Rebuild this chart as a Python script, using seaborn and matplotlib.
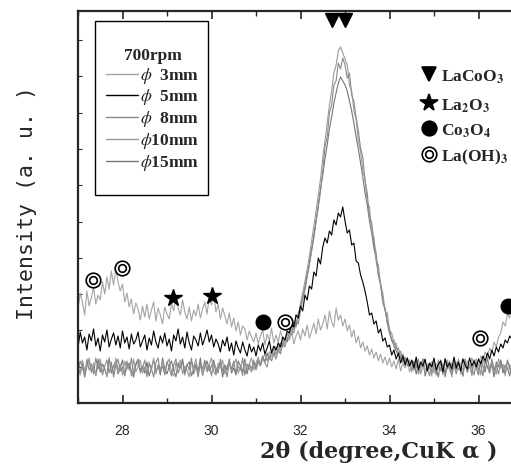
import numpy as np
import pandas as pd
import matplotlib
matplotlib.use("Agg")
import matplotlib.pyplot as plt
import seaborn as sns
from matplotlib.lines import Line2D
from matplotlib.patches import Rectangle
from matplotlib.ticker import MultipleLocator

# ---------------- data ----------------
# scan grid: 27.00 .. 36.80 deg, step 0.05 (197 points)
two_theta = np.round(np.linspace(27.0, 36.8, 197), 2)

i_3mm = [94, 110, 101, 88, 112, 97, 105, 116, 99, 108,
         103, 121, 109, 126, 114, 132, 118, 135, 121, 112,
         119, 101, 110, 96, 104, 89, 100, 94, 83, 97,
         86, 99, 84, 93, 101, 82, 95, 88, 79, 96,
         89, 84, 100, 92, 106, 95, 88, 103, 91, 84,
         96, 82, 93, 87, 99, 85, 94, 101, 89, 106,
         98, 107, 91, 99, 84, 95, 87, 79, 90, 76,
         85, 72, 81, 68, 77, 74, 63, 72, 66, 61,
         70, 59, 67, 73, 58, 69, 62, 75, 60, 68,
         61, 72, 64, 58, 70, 63, 74, 59, 67, 72,
         63, 74, 67, 78, 65, 72, 80, 69, 84, 73,
         79, 88, 74, 92, 81, 76, 95, 83, 88, 77,
         84, 72, 78, 66, 73, 60, 67, 55, 61, 52,
         57, 48, 54, 45, 51, 42, 49, 40, 46, 38,
         45, 36, 42, 34, 44, 32, 40, 35, 43, 31,
         40, 33, 43, 30, 38, 42, 31, 39, 34, 41,
         30, 39, 35, 42, 31, 38, 43, 32, 40, 34,
         41, 33, 39, 44, 35, 42, 36, 45, 38, 44,
         38, 47, 43, 51, 45, 55, 50, 61, 56, 66,
         70, 81, 77, 89, 85, 97, 92]

i_5mm = [55, 71, 60, 66, 53, 69, 62, 74, 57, 65,
         52, 68, 61, 73, 56, 64, 70, 58, 67, 55,
         72, 60, 66, 54, 69, 59, 63, 71, 56, 62,
         68, 53, 65, 58, 72, 61, 55, 67, 60, 70,
         57, 64, 52, 68, 62, 74, 59, 66, 55, 71,
         60, 53, 67, 63, 57, 70, 58, 65, 73, 61,
         68, 56, 64, 59, 51, 63, 57, 66, 52, 60,
         48, 62, 55, 50, 61, 53, 47, 59, 51, 56,
         47, 58, 52, 60, 49, 55, 62, 50, 57, 53,
         60, 56, 66, 63, 72, 70, 80, 76, 88, 85,
         97, 92, 108, 103, 117, 114, 131, 127, 145, 139,
         156, 165, 160, 172, 168, 183, 178, 190, 186, 196,
         182, 170, 173, 158, 160, 142, 140, 128, 121, 112,
         101, 88, 90, 79, 82, 70, 74, 62, 65, 56,
         58, 48, 53, 44, 50, 40, 47, 38, 45, 37,
         43, 35, 46, 33, 41, 37, 44, 32, 40, 36,
         45, 33, 39, 42, 31, 44, 36, 40, 34, 46,
         35, 41, 32, 44, 38, 34, 45, 37, 42, 36,
         44, 39, 47, 42, 50, 44, 53, 47, 56, 51,
         59, 55, 63, 60, 67, 64, 70]

i_8mm = [31, 42, 35, 27, 44, 33, 39, 29, 45, 34,
         40, 28, 37, 43, 30, 41, 26, 38, 44, 32,
         36, 27, 42, 33, 45, 29, 38, 41, 30, 35,
         43, 28, 39, 34, 26, 40, 45, 31, 37, 29,
         42, 35, 27, 38, 44, 30, 36, 41, 28, 39,
         33, 45, 29, 37, 26, 40, 34, 43, 31, 38,
         27, 41, 35, 30, 44, 32, 38, 26, 40, 34,
         42, 29, 37, 33, 45, 28, 39, 35, 31, 43,
         33, 41, 37, 45, 40, 36, 47, 42, 50, 44,
         53, 49, 60, 56, 66, 63, 74, 70, 83, 79,
         92, 104, 113, 126, 138, 152, 165, 181, 196, 212,
         232, 256, 266, 290, 298, 318, 322, 340, 334, 345,
         338, 325, 330, 308, 302, 285, 272, 255, 246, 222,
         210, 186, 180, 160, 150, 128, 120, 100, 94, 82,
         74, 62, 63, 54, 55, 46, 49, 41, 45, 37,
         42, 33, 40, 29, 38, 44, 31, 36, 27, 41,
         35, 28, 43, 32, 39, 26, 37, 42, 30, 38,
         29, 40, 34, 27, 43, 31, 38, 35, 28, 41,
         33, 39, 27, 42, 36, 30, 44, 32, 38, 29,
         41, 34, 30, 43, 37, 28, 39]

i_10mm = [38, 28, 43, 32, 36, 45, 30, 40, 27, 37,
          44, 31, 35, 26, 41, 38, 29, 45, 33, 39,
          28, 42, 34, 39, 27, 44, 31, 37, 43, 30,
          36, 26, 41, 33, 45, 29, 38, 32, 42, 28,
          39, 44, 31, 27, 40, 35, 43, 29, 37, 33,
          26, 41, 36, 44, 30, 38, 27, 42, 34, 39,
          45, 31, 28, 40, 35, 43, 29, 37, 41, 32,
          38, 44, 30, 36, 27, 41, 34, 39, 45, 33,
          40, 46, 38, 44, 49, 42, 51, 46, 55, 48,
          57, 52, 63, 59, 70, 66, 78, 74, 88, 84,
          100, 110, 122, 134, 147, 162, 177, 192, 208, 224,
          245, 262, 280, 298, 312, 330, 338, 352, 356, 350,
          344, 338, 318, 312, 292, 284, 262, 252, 232, 225,
          200, 196, 172, 166, 142, 138, 118, 110, 92, 90,
          72, 70, 58, 60, 48, 52, 42, 46, 38, 43,
          31, 40, 35, 44, 29, 37, 42, 33, 39, 27,
          43, 30, 36, 41, 28, 45, 34, 38, 26, 40,
          37, 44, 29, 35, 42, 31, 39, 27, 43, 33,
          40, 28, 45, 34, 38, 30, 42, 36, 29, 44,
          35, 39, 27, 42, 33, 40, 31]

i_15mm = [35, 30, 41, 26, 38, 43, 32, 36, 28, 44,
          31, 39, 34, 27, 45, 30, 37, 42, 29, 35,
          43, 28, 36, 40, 32, 26, 39, 44, 33, 37,
          30, 41, 27, 35, 43, 31, 38, 28, 45, 34,
          29, 37, 42, 33, 26, 40, 35, 44, 30, 38,
          41, 27, 34, 39, 31, 45, 28, 36, 42, 32,
          37, 43, 29, 35, 40, 26, 38, 33, 44, 30,
          35, 28, 42, 37, 31, 44, 29, 39, 34, 41,
          36, 43, 39, 47, 41, 50, 44, 52, 47, 56,
          51, 60, 56, 65, 61, 72, 68, 80, 76, 90,
          96, 106, 116, 128, 140, 154, 168, 183, 198, 214,
          228, 244, 258, 274, 286, 300, 310, 320, 326, 322,
          318, 312, 302, 292, 280, 266, 254, 240, 226, 210,
          198, 182, 170, 155, 144, 128, 118, 102, 94, 80,
          70, 63, 57, 52, 48, 45, 41, 44, 37, 40,
          33, 42, 29, 38, 35, 44, 27, 36, 40, 31,
          39, 34, 26, 43, 37, 30, 41, 35, 28, 42,
          33, 40, 36, 27, 44, 31, 38, 29, 43, 35,
          28, 42, 37, 31, 45, 34, 39, 26, 41, 36,
          43, 30, 38, 35, 27, 41, 34]

samples = ["3mm", "5mm", "8mm", "10mm", "15mm"]
legend_labels = [r"$\phi$  3mm", r"$\phi$  5mm", r"$\phi$  8mm",
                 r"$\phi$10mm", r"$\phi$15mm"]
legend_title = "700rpm"

# phase markers (2theta, intensity)
lacoo3_x, lacoo3_y = [32.71, 33.0], [383, 383]
la2o3_x, la2o3_y = [29.13, 30.01], [105, 107]
co3o4_x, co3o4_y = [31.16, 36.66], [81, 97]
laoh3_x, laoh3_y = [27.34, 27.99, 31.65, 36.03], [123, 135, 81, 65]
phase_names = [r"LaCoO$_\mathbf{3}$", r"La$_\mathbf{2}$O$_\mathbf{3}$",
               r"Co$_\mathbf{3}$O$_\mathbf{4}$", r"La(OH)$_\mathbf{3}$"]

xlabel = "2θ (degree,CuK α )"
ylabel = "Intensity (a. u. )"
xticks = [28, 30, 32, 34, 36]

# ---------------- styling ----------------
sns.set_style("ticks")
plt.rcParams["font.family"] = ["Liberation Serif", "DejaVu Serif"]
plt.rcParams["mathtext.fontset"] = "stix"

colors = {"3mm": "#a4a4a4", "5mm": "#000000", "8mm": "#8a8a8a",
          "10mm": "#9a9a9a", "15mm": "#767676"}

series = {"3mm": i_3mm, "5mm": i_5mm, "8mm": i_8mm, "10mm": i_10mm, "15mm": i_15mm}
df = pd.concat([pd.DataFrame({"two_theta": two_theta, "intensity": series[s], "sample": s})
                for s in samples], ignore_index=True)

W, H = 511, 468
fig = plt.figure(figsize=(W / 100, H / 100), dpi=100)
ax_left, ax_bottom, ax_w, ax_h = 78, 65, 489.5, 392
ax = fig.add_axes([ax_left / W, ax_bottom / H, ax_w / W, ax_h / H])

draw_order = ["15mm", "10mm", "8mm", "3mm", "5mm"]
for s in draw_order:
    sns.lineplot(data=df[df["sample"] == s], x="two_theta", y="intensity",
                 color=colors[s], lw=0.8, ax=ax, estimator=None, sort=False,
                 legend=False)

ax.set_xlim(27, 38)
ax.set_ylim(0, 392)

# phase markers on the pattern
ax.plot(lacoo3_x, lacoo3_y, ls="none", marker="v", ms=10, color="black")
ax.plot(la2o3_x, la2o3_y, ls="none", marker="*", ms=13, color="black")
ax.plot(co3o4_x, co3o4_y, ls="none", marker="o", ms=10.5, color="black", clip_on=False)
ax.plot(laoh3_x, laoh3_y, ls="none", marker="o", ms=10.5, mfc="white", mec="black", mew=1.2)
ax.plot(laoh3_x, laoh3_y, ls="none", marker="o", ms=5.5, mfc="white", mec="black", mew=1.2)

# phase key at right
def axf(px, py):
    return ((px - ax_left) / ax_w, ((H - ax_bottom) - py) / ax_h)

key_rows = [(74, "v", 10, "black", "black"), (103, "*", 13, "black", "black"),
            (128, "o", 10.5, "black", "black"), (154, "o", 10.5, "white", "black")]
for (py, mk, ms, fc, ec), name in zip(key_rows, phase_names):
    x0, y0 = axf(429, py)
    ax.plot([x0], [y0], transform=ax.transAxes, marker=mk, ms=ms, mfc=fc, mec=ec,
            mew=1.2, ls="none", clip_on=False)
    if mk == "o" and fc == "white":
        ax.plot([x0], [y0], transform=ax.transAxes, marker="o", ms=5.5, mfc="white",
                mec="black", mew=1.2, ls="none", clip_on=False)
    tx, ty = axf(441, py + 3)
    ax.text(tx, ty, name, transform=ax.transAxes, fontsize=12.5, fontweight="bold",
            ha="left", va="center")

# ticks & spines
ax.set_xticks(xticks)
ax.xaxis.set_minor_locator(MultipleLocator(1))
ax.yaxis.set_major_locator(MultipleLocator(36.3))
ax.tick_params(axis="x", which="major", direction="in", length=6, width=1.2,
               top=True, bottom=True, pad=15, labelsize=10)
ax.tick_params(axis="x", which="minor", direction="in", length=3.5, width=1.0,
               top=True, bottom=True)
ax.tick_params(axis="y", which="major", direction="in", length=3, width=0.8,
               left=True, right=False, labelleft=False)
for lab in ax.get_xticklabels():
    lab.set_family(["Liberation Sans", "DejaVu Sans"])
for sp in ax.spines.values():
    sp.set_linewidth(1.6)
    sp.set_visible(True)

ax.set_xlabel(xlabel, fontsize=16, fontweight="bold", family=["DejaVu Serif"])
ax.xaxis.set_label_coords((379 - ax_left) / ax_w, (403 - 441) / ax_h)
ax.set_ylabel(ylabel, fontsize=15.5, family=["DejaVu Sans Mono"])
ax.yaxis.set_label_coords((37 - ax_left) / ax_w, 0.51)

# sample legend
handles = [Line2D([], [], color=colors[s], lw=1.0) for s in samples]
lx, ly = axf(106, 48)
leg = ax.legend(handles, legend_labels, title=legend_title, loc="upper left",
                bbox_to_anchor=(lx, ly), frameon=False,
                prop={"family": "Liberation Serif", "weight": "bold", "size": 12.5},
                title_fontproperties={"family": "Liberation Serif", "weight": "bold", "size": 12.5},
                handlelength=1.85, handletextpad=0.1, labelspacing=0.1, borderpad=0,
                borderaxespad=0)
bx0, by1 = axf(95, 21)
bx1, by0 = axf(208, 195)
ax.add_patch(Rectangle((bx0, by0), bx1 - bx0, by1 - by0, transform=ax.transAxes,
                       fill=False, ec="black", lw=1.0, zorder=5))

fig.savefig("out.png", dpi=100)
